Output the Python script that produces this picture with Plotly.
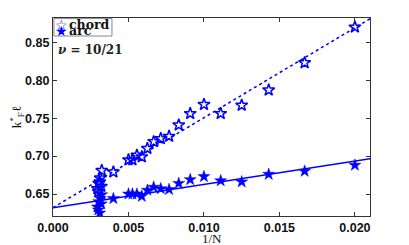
import plotly.graph_objects as go

# 1/N values and k_F* l values
chord_invN = [0.020, 0.01667, 0.01429, 0.0125, 0.01111, 0.0100, 0.00909, 0.00833,
              0.00769, 0.00714, 0.00667, 0.00625, 0.00588, 0.00556, 0.00526, 0.00500,
              0.00400, 0.00323, 0.00313, 0.00303, 0.00294, 0.00310, 0.00300, 0.00320]
chord_y = [0.870, 0.823, 0.787, 0.767, 0.756, 0.768, 0.756, 0.741,
           0.726, 0.723, 0.719, 0.710, 0.699, 0.701, 0.695, 0.695,
           0.679, 0.681, 0.671, 0.664, 0.657, 0.666, 0.653, 0.660]

arc_invN = [0.020, 0.01667, 0.01429, 0.0125, 0.01111, 0.0100, 0.00909, 0.00833,
            0.00769, 0.00714, 0.00667, 0.00625, 0.00588, 0.00556, 0.00526, 0.00500,
            0.00400, 0.00323, 0.00313, 0.00303, 0.00294, 0.00310, 0.00300, 0.00320]
arc_y = [0.688, 0.680, 0.676, 0.666, 0.6675, 0.673, 0.669, 0.664,
         0.656, 0.657, 0.659, 0.655, 0.647, 0.650, 0.650, 0.650,
         0.644, 0.649, 0.644, 0.640, 0.633, 0.625, 0.629, 0.637]

fit_x = [0.0, 0.021]
chord_fit = [0.632, 0.881]
arc_fit = [0.632, 0.6965]

x_ticks = [0.000, 0.005, 0.010, 0.015, 0.020]
x_tick_labels = ["0.000", "0.005", "0.010", "0.015", "0.020"]
y_ticks = [0.65, 0.70, 0.75, 0.80, 0.85]
y_tick_labels = ["0.65", "0.70", "0.75", "0.80", "0.85"]

legend_names = ["chord", "arc"]
legend_glyphs = ["☆", "★"]

blue = "rgb(0,0,255)"
fig = go.Figure()
fig.add_trace(go.Scatter(x=fit_x, y=chord_fit, mode="lines", showlegend=False,
                         line=dict(color=blue, width=1.5, dash="dot")))
fig.add_trace(go.Scatter(x=fit_x, y=arc_fit, mode="lines", showlegend=False,
                         line=dict(color=blue, width=1.5)))
fig.add_trace(go.Scatter(x=chord_invN, y=chord_y, mode="markers", name=legend_names[0],
                         showlegend=False,
                         marker=dict(symbol="star-open", size=9, color=blue,
                                     line=dict(width=1.5, color=blue))))
fig.add_trace(go.Scatter(x=arc_invN, y=arc_y, mode="markers", name=legend_names[1],
                         showlegend=False,
                         marker=dict(symbol="star", size=9, color=blue,
                                     line=dict(width=0.5, color=blue))))

axis_common = dict(showgrid=False, zeroline=False, showline=True, linecolor="#333",
                   linewidth=1.2, mirror="ticks", ticks="inside", ticklen=4,
                   tickcolor="#333", automargin=False,
                   tickfont=dict(family="Liberation Sans", size=12.5, color="#111",
                                 weight="bold"))
fig.update_xaxes(range=[0, 0.021], tickvals=x_ticks, ticktext=x_tick_labels,
                 **axis_common)
fig.update_yaxes(range=[0.621, 0.882], tickvals=y_ticks, ticktext=y_tick_labels,
                 title=dict(text="k<sup>*</sup><sub>F</sub>ℓ", standoff=2,
                            font=dict(family="Liberation Serif", size=13, color="#111")),
                 **axis_common)

fig.add_annotation(x=0.5, y=-0.112, xref="paper", yref="paper", xanchor="center",
                   yanchor="middle", showarrow=False, text="1/N",
                   font=dict(family="Liberation Serif", size=13, color="#111"))

fig.add_annotation(x=0.008, y=0.838, xref="paper", yref="paper", xanchor="left",
                   yanchor="middle", showarrow=False,
                   text="<i>ν</i> = 10/21",
                   font=dict(family="DejaVu Serif", size=12, color="#222", weight="bold"))

# compact legend box (drawn as a shape with text entries)
fig.add_shape(type="rect", xref="paper", yref="paper", x0=0.003, x1=0.186,
              y0=0.909, y1=0.997, line=dict(color="#888", width=1),
              fillcolor="white", layer="above")
legend_y = [0.966, 0.935]
for name, glyph, yy in zip(legend_names, legend_glyphs, legend_y):
    fig.add_annotation(x=0.026, y=yy, xref="paper", yref="paper", xanchor="center",
                       yanchor="middle", showarrow=False, text=glyph,
                       font=dict(family="DejaVu Sans", size=14, color=blue))
    fig.add_annotation(x=0.043, y=yy, xref="paper", yref="paper", xanchor="left",
                       yanchor="middle", showarrow=False, text=name,
                       font=dict(family="DejaVu Serif", size=12.5, color="#111",
                                 weight="bold"))

# page body has an 8px margin; compensate so the plot area sits at x 53-370, y 18-216
fig.update_layout(
    width=401, height=237,
    margin=dict(l=45, r=39, t=10, b=29),
    plot_bgcolor="white", paper_bgcolor="white",
    showlegend=False,
)
fig.write_html("out.html")
